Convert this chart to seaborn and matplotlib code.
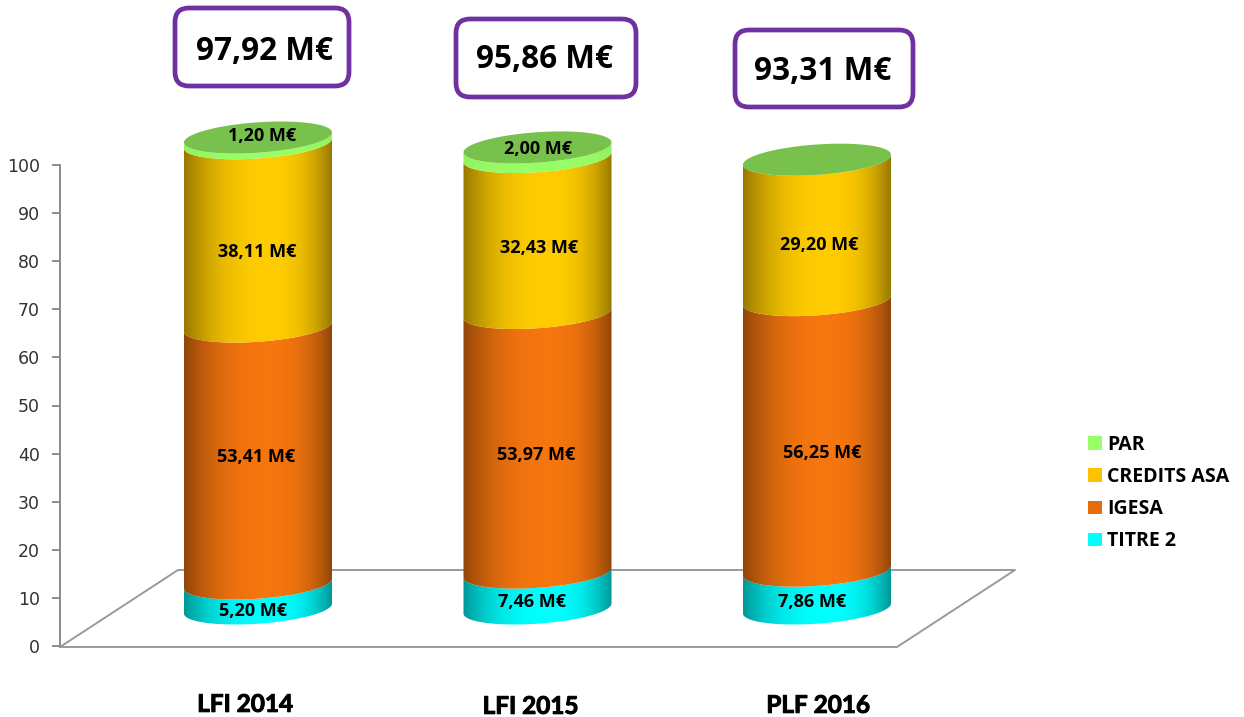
import numpy as np
import pandas as pd
import seaborn as sns
import matplotlib
matplotlib.use("Agg")
import matplotlib.pyplot as plt
import matplotlib.patheffects as pe
from matplotlib.colors import to_rgb
from matplotlib.patches import Polygon, FancyBboxPatch, Patch
from matplotlib.transforms import IdentityTransform, ScaledTranslation

categories = ["LFI 2014", "LFI 2015", "PLF 2016"]
titre2 = [5.20, 7.46, 7.86]
igesa = [53.41, 53.97, 56.25]
credits_asa = [38.11, 32.43, 29.20]
par = [1.20, 2.00, 0.0]
totals = [97.92, 95.86, 93.31]
series_names = ["TITRE 2", "IGESA", "CREDITS ASA", "PAR"]
series_values = [titre2, igesa, credits_asa, par]

# ---- styling / layout (pixels of the 1244x717 canvas)
W, H = 1244, 717
side_colors = ["#00FFFF", "#F6760F", "#FFCC00", "#99FF66"]
legend_colors = ["#00FFFF", "#E46C0A", "#FFC000", "#99FF66"]
top_color = "#77C14C"
purple = "#7030A0"
gray = "#8C8C8C"
PX_X = 279.5          # pixels per category
PX_Y = 4.81           # pixels per value unit
HALF_W = 74 / PX_X
DEPTH = 37.5 / PX_Y   # lift of the cylinder axis above the y-axis scale
ARC = 15.2 / PX_Y
SKEW = 5.0 / PX_Y
LABEL_NUDGE = {  # (dx, dy) px for each shown label
    "TITRE 2": [(-5, 15), (-5.5, 11), (-5, 12)],
    "IGESA": [(-2, 2), (-1, 12), (5, 18)],
    "CREDITS ASA": [(-1, 17), (2, 13), (2, 15)],
    "PAR": [(4, -4), (1, -3), None],
}
BOXES = [(175, 8, 349, 86, 264, 51), (456, 19, 636, 97, 545, 60), (735, 30, 913, 107, 823, 72)]
CAT_NUDGE = [(-13, 1), (-7, 3), (1, 2)]

sns.set_theme(style="white")
plt.rcParams["font.family"] = ["Open Sans", "DejaVu Sans"]

fig = plt.figure(figsize=(W / 100, H / 100), dpi=100, facecolor="white")
ax = fig.add_axes([60 / W, (H - 646) / H, 955 / W, 481 / H])
ax.patch.set_visible(False)

cum = np.cumsum(np.array(series_values), axis=0)
long = pd.concat(
    [pd.DataFrame({"cat": categories, "serie": n, "top": cum[i]}) for i, n in enumerate(series_names)]
)
sns.barplot(data=long, x="cat", y="top", hue="serie", hue_order=series_names, order=categories,
            dodge=False, width=2 * HALF_W, legend=False, ax=ax, errorbar=None)

ax.autoscale(False)
ax.set_xlim((60 - 258) / PX_X, (1015 - 258) / PX_X)
ax.set_ylim(0, 100)


def shade(color, strength):
    u = np.linspace(0, 1, 256)
    peak = 0.58
    d = np.where(u < peak, (peak - u) / peak, (u - peak) / (1 - peak))
    f = 1 - strength * d ** 2.4
    rgb = np.array(to_rgb(color))
    return (f[:, None] * rgb)[None, :, :]


def arc(cx, v, t):
    return np.c_[cx + HALF_W * np.cos(t), v + DEPTH + SKEW * np.cos(t) + ARC * np.sin(t)]


t_front = np.linspace(np.pi, 2 * np.pi, 120)
t_full = np.linspace(0, 2 * np.pi, 240)
z = 3
prev = [0.0, 0.0, 0.0]
for s, (name, cont) in enumerate(zip(series_names, ax.containers)):
    for i, bar in enumerate(cont):
        bar.set_visible(False)
        cx = bar.get_x() + bar.get_width() / 2
        top = bar.get_height()
        v0 = prev[i]
        prev[i] = top
        if top - v0 > 0:
            poly = Polygon(np.r_[arc(cx, v0, t_front), arc(cx, top, t_front[::-1])],
                           closed=True, transform=ax.transData, facecolor="none", edgecolor="none")
            ax.add_patch(poly)
            poly.set_clip_on(False)
            strength = 0.05 if name == "PAR" else 0.41
            im = ax.imshow(shade(side_colors[s], strength), extent=(cx - HALF_W, cx + HALF_W, v0, top + 2 * DEPTH),
                           aspect="auto", zorder=z, interpolation="bilinear")
            im.set_clip_box(fig.bbox)
            im.set_clip_path(poly)
            z += 1
        nudge = LABEL_NUDGE[name][i]
        if nudge is not None:
            txt = f"{series_values[s][i]:.2f} M€".replace(".", ",")
            ax.annotate(txt, xy=(cx, (v0 + top) / 2 + DEPTH),
                        xytext=(nudge[0] * 0.72, -nudge[1] * 0.72), textcoords="offset points",
                        ha="center", va="center", fontsize=13, fontweight="bold", color="black",
                        zorder=50, annotation_clip=False)
    if name == series_names[-1]:
        for i, bar in enumerate(cont):
            cx = bar.get_x() + bar.get_width() / 2
            ax.add_patch(Polygon(arc(cx, bar.get_height(), t_full), closed=True, facecolor=top_color,
                                 edgecolor="none", zorder=z, clip_on=False))

# axis cosmetics
ax.set_xlabel("")
ax.set_ylabel("")
for k in ("top", "right", "bottom"):
    ax.spines[k].set_visible(False)
ax.spines["left"].set_visible(True)
ax.spines["left"].set_color(gray)
ax.spines["left"].set_linewidth(1.4)
ax.set_yticks(np.arange(0, 101, 10))
ax.tick_params(axis="y", left=True, length=6, width=1.4, color=gray, labelsize=12.5,
               labelcolor="#333333", pad=8.5)
for lab in ax.get_yticklabels():
    lab.set_fontfamily("DejaVu Sans")
ax.set_xticks(range(3))
ax.set_xticklabels(categories, fontsize=17.5, fontweight="bold", color="black", family=["Lato", "DejaVu Sans"])
ax.tick_params(axis="x", bottom=False, pad=27)
for lab, (dx, dy) in zip(ax.get_xticklabels(), CAT_NUDGE):
    lab.set_transform(lab.get_transform() + ScaledTranslation(dx / 100, -dy / 100, fig.dpi_scale_trans))
    lab.set_path_effects([pe.withStroke(linewidth=0.7, foreground="black")])

# floor
def P(pts):
    a = np.array(pts, float)
    return a[:, 0], H - a[:, 1]


fx, fy = P([(60, 647), (897, 647), (1015, 570), (178, 570), (60, 647)])
ax.plot(fx, fy, color="#9A9A9A", lw=1.4, transform=IdentityTransform(), clip_on=False, zorder=1)

# total boxes
for (x0, y0, x1, y1, tx, ty), tot in zip(BOXES, totals):
    box = FancyBboxPatch((x0 + 14, H - y1 + 14), x1 - x0 - 28, y1 - y0 - 28,
                         boxstyle="round,pad=14,rounding_size=14", transform=IdentityTransform(),
                         facecolor="white", edgecolor=purple, linewidth=3.4, clip_on=False, zorder=60)
    ax.add_artist(box)
    ax.text(tx, H - ty, f"{tot:.2f} M€".replace(".", ","), transform=IdentityTransform(), ha="center",
            va="center", fontsize=22.7, fontweight="bold", color="black", zorder=61, clip_on=False)

handles = [Patch(facecolor=c, edgecolor="none", label=n) for c, n in zip(legend_colors, series_names)][::-1]
fig.legend(handles=handles, loc="upper left", bbox_to_anchor=(1088 / W, (H - 435) / H), frameon=False,
           prop={"size": 14, "weight": "bold"}, handlelength=0.7, handleheight=0.7, handletextpad=0.3,
           labelspacing=0.62, labelcolor="black", borderpad=0, borderaxespad=0)

fig.savefig("out.png", dpi=100, facecolor="white")
